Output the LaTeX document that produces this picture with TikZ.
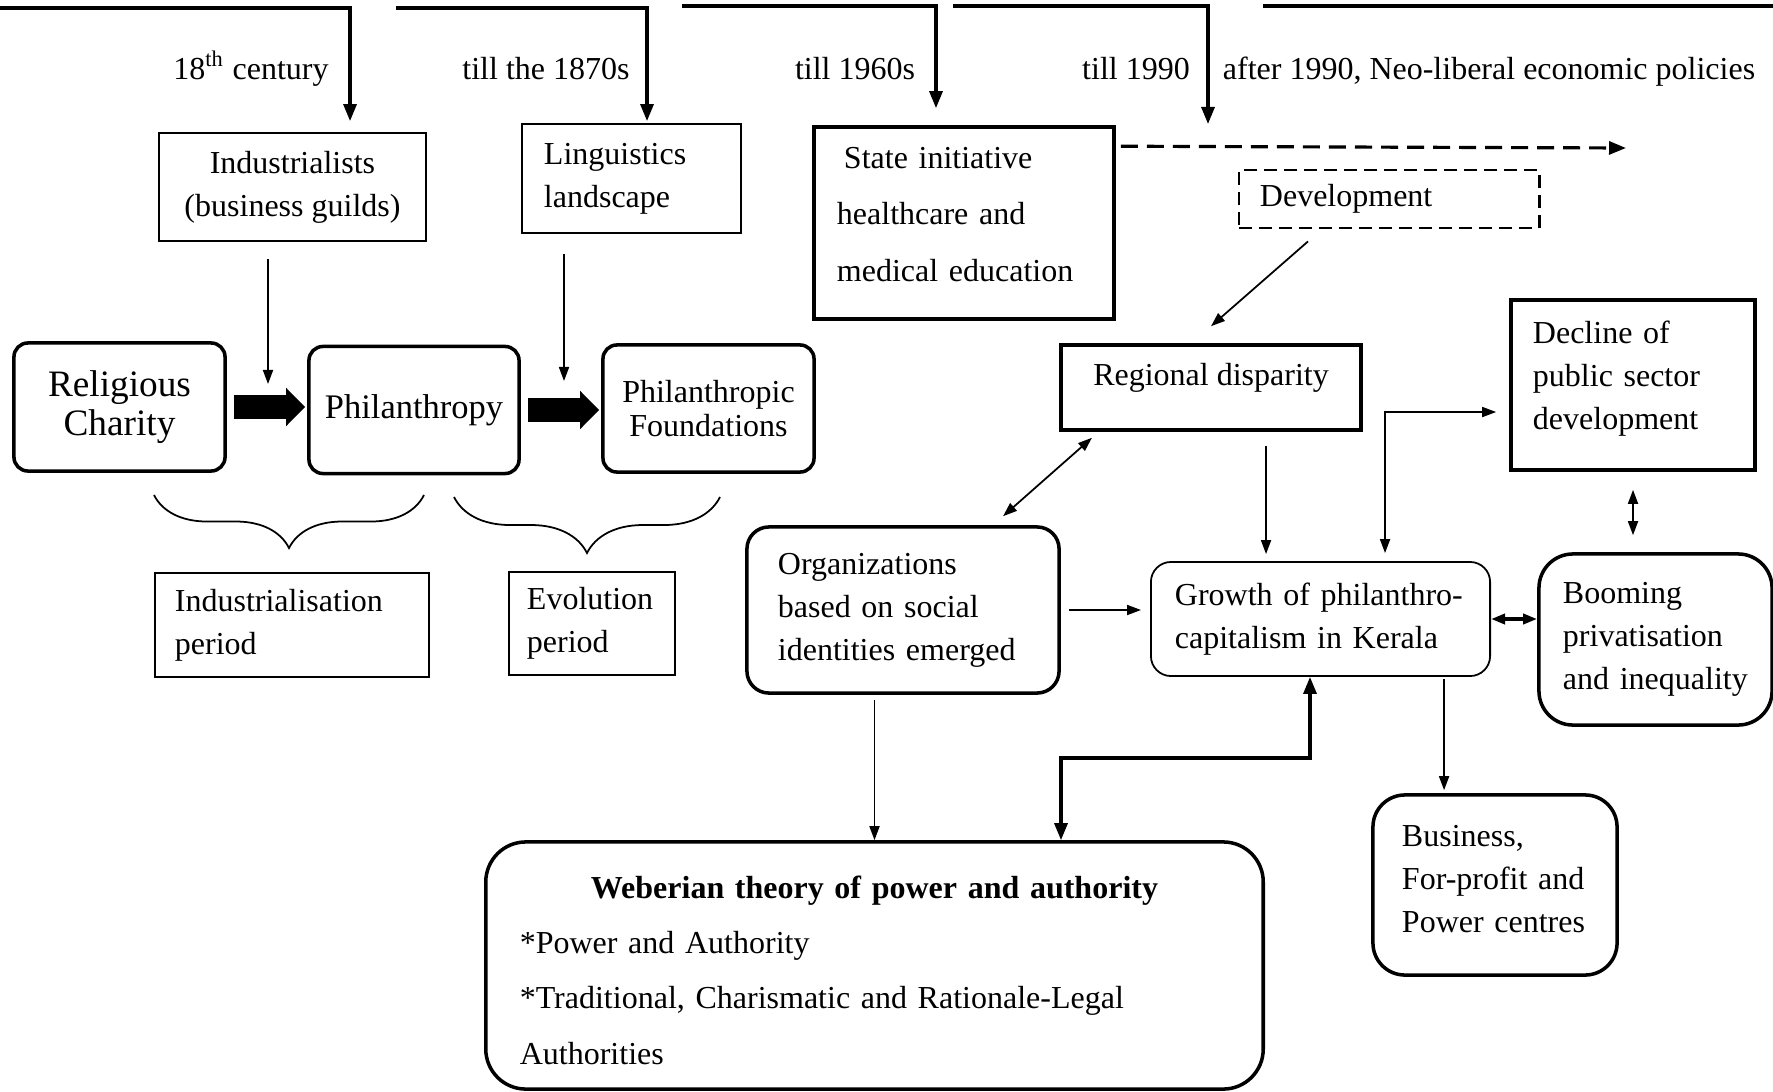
\documentclass[tikz,border=0pt]{standalone}
\usepackage{fontspec}
\setmainfont{Liberation Serif}
\usetikzlibrary{arrows.meta, decorations.pathreplacing}

\begin{document}
\begin{tikzpicture}[x=0.01cm, y=-0.01cm,
                    every node/.style={font=\fontsize{9.1}{12.2}\selectfont},
                    period/.style={anchor=base},
                    thinbox/.style={draw, line width=0.5pt, align=left, inner sep=0pt},
                    thickbox/.style={draw, line width=1pt, align=left, inner sep=0pt},
                    roundbox/.style={thickbox, rounded corners=#1},
                    dashbox/.style={draw, line width=0.8pt, dash pattern=on 0.13cm off 0.07cm, align=left, inner sep=0pt},
                    arrow/.style={line width=0.5pt, -{Triangle[length=0.14cm, width=0.1cm]}},
                    dblarrow/.style={line width=0.5pt, {Triangle[length=0.14cm, width=0.1cm]}-{Triangle[length=0.14cm, width=0.1cm]}},
                    toparrow/.style={line width=0.9pt, -{Triangle[length=0.17cm, width=0.13cm]}},
                    topline/.style={line width=0.9pt},
                    dasharrow/.style={line width=0.9pt, dash pattern=on 0.17cm off 0.09cm, -{Triangle[length=0.17cm, width=0.13cm]}},
                    fatarrow/.style={line width=0.24cm, -{Triangle[length=0.19cm, width=0.37cm]}},
                    thickarrow/.style={line width=0.9pt, {Triangle[length=0.17cm, width=0.13cm]}-{Triangle[length=0.17cm, width=0.13cm]}},
                    brace/.style={decorate, decoration={brace, amplitude=#1}, line width=0.5pt}]
                    \useasboundingbox (0,0) rectangle (1773,1091);

                    \node[period] (lab1) at (251,80) {18\textsuperscript{th} century};
                    \node[period] (lab2) at (546,80) {till the 1870s};
                    \node[period] (lab3) at (855,80) {till 1960s};
                    \node[period] (lab4) at (1136,80) {till 1990};
                    \node[period] (lab5) at (1489,80) {after 1990, Neo-liberal economic policies};

                    \node[thinbox, minimum width=2.67cm, minimum height=1.08cm, align=center] (indust) at (292.5,187) {Industrialists\\(business guilds)};
                    \node[thinbox, minimum width=2.19cm, minimum height=1.09cm, text width=1.75cm] (ling) at (631.5,178.5) {Linguistics\\landscape};
                    \node[thickbox, minimum width=3cm, minimum height=1.92cm, text width=2.54cm, font=\fontsize{9.1}{16}\selectfont, text depth=37pt] (state) at (964,223) {\hspace{2pt}State initiative\\healthcare and\\medical education};
                    \node[dashbox, minimum width=3cm, minimum height=0.58cm, text width=2.58cm] (dev) at (1389,199) {Development};

                    \node[roundbox=0.14cm, minimum width=2.11cm, minimum height=1.28cm, align=center, font=\fontsize{10.6}{11}\selectfont] (rel) at (119.5,407) {Religious\\Charity};
                    \node[roundbox=0.14cm, minimum width=2.10cm, minimum height=1.27cm, align=center, font=\fontsize{9.8}{12}\selectfont] (phil) at (414,410) {Philanthropy};
                    \node[roundbox=0.14cm, minimum width=2.11cm, minimum height=1.27cm, align=center, font=\fontsize{9.1}{9.6}\selectfont] (found) at (708.5,408.5) {Philanthropic\\Foundations};

                    \node[thinbox, minimum width=2.74cm, minimum height=1.04cm, text width=2.34cm] (indper) at (292,625) {Industrialisation\\period};
                    \node[thinbox, minimum width=1.66cm, minimum height=1.03cm, text width=1.30cm] (evoper) at (592,623.5) {Evolution\\period};

                    \node[thickbox, minimum width=3cm, minimum height=0.85cm, align=center, text depth=7.7pt] (regional) at (1211,387.5) {Regional disparity};
                    \node[thickbox, minimum width=2.44cm, minimum height=1.70cm, text width=2.00cm, text depth=30pt] (decline) at (1633,385) {Decline of\\public sector\\development};
                    \node[roundbox=0.22cm, minimum width=3.12cm, minimum height=1.66cm, text width=2.50cm] (org) at (903,610) {Organizations\\based on social\\identities emerged};
                    \node[roundbox=0.2cm, line width=0.5pt, minimum width=3.39cm, minimum height=1.14cm, text width=2.91cm] (growth) at (1320.5,619) {Growth of philanthro-\\capitalism in Kerala};
                    \node[roundbox=0.34cm, minimum width=2.33cm, minimum height=1.71cm, text width=1.85cm] (booming) at (1655.5,639.5) {Booming\\privatisation\\and inequality};
                    \node[roundbox=0.32cm, minimum width=2.44cm, minimum height=1.80cm, text width=1.86cm, text depth=28pt] (business) at (1495,885) {Business,\\For-profit and\\Power centres};
                    \node[roundbox=0.4cm, minimum width=7.77cm, minimum height=2.47cm, text width=7.09cm, font=\fontsize{9.1}{15.7}\selectfont, text depth=44.5pt] (weber) at (874.5,965.5) {\makebox[\hsize]{\textbf{Weberian theory of power and authority}}\\{}*Power and Authority\\{}*Traditional, Charismatic and Rationale-Legal\\{}Authorities};

                    \coordinate (t1) at (0,8);
                    \coordinate (t2) at (396,8);
                    \coordinate (t3) at (682,6);
                    \coordinate (t4) at (953,6);
                    \coordinate (t4e) at (1208,124);
                    \coordinate (t5) at (1263,6);
                    \coordinate (t5e) at (1773,6);
                    \coordinate (gap1) at (268,384);
                    \coordinate (gap2) at (564,381);
                    \coordinate (dashend) at (1626,148);
                    \coordinate (bend) at (1061,758);

                    \draw[toparrow, shorten >=0.11cm] (t1) -| ([xshift=0.575cm]indust.north);
                    \draw[toparrow, shorten >=0.02cm] (t2) -| ([xshift=0.155cm]ling.north);
                    \draw[toparrow, shorten >=0.17cm] (t3) -| ([xshift=-0.28cm]state.north);
                    \draw[toparrow] (t4) -| (t4e);
                    \draw[topline] (t5) -- (t5e);

                    \draw[arrow, shorten <=0.17cm] (indust.south -| gap1) -- (gap1);
                    \draw[arrow, shorten <=0.2cm] (ling.south -| gap2) -- (gap2);
                    \draw[fatarrow, shorten <=0.07cm, shorten >=0.02cm] (rel.east) -- (rel.east -| phil.west);
                    \draw[fatarrow, shorten <=0.07cm, shorten >=0.02cm] (phil.east) -- (phil.east -| found.west);
                    \draw[brace=0.53cm] (424,495) -- (154,495);
                    \draw[brace=0.56cm] (720,497) -- (454,497);

                    \draw[dasharrow, shorten <=0.05cm] ([yshift=-0.21cm]state.north east) -- (dashend);
                    \draw[arrow] ([xshift=-0.81cm, yshift=-0.12cm]dev.south) -- ([yshift=0.17cm]regional.north);
                    \draw[dblarrow] ([xshift=1cm, yshift=0.09cm]org.north) -- ([xshift=-1.19cm, yshift=-0.06cm]regional.south);
                    \draw[arrow, shorten <=0.08cm, shorten >=0.09cm] (org.east) -- (org.east -| growth.west);
                    \draw[arrow, shorten <=0.14cm, shorten >=0.07cm] ([xshift=0.55cm]regional.south) -- ([xshift=0.55cm]regional.south |- growth.north);
                    \draw[dblarrow, shorten <=0.08cm, shorten >=0.13cm] ([xshift=0.645cm]growth.north) |- ([yshift=-0.27cm]decline.west);
                    \draw[dblarrow, shorten <=0.18cm, shorten >=0.17cm] (decline.south) -- (decline.south |- booming.north);
                    \draw[dblarrow, line width=1pt] (growth.east) -- (growth.east -| booming.west);
                    \draw[arrow, shorten <=0.02cm, shorten >=0.03cm] ([xshift=1.235cm]growth.south) -- ([xshift=1.235cm]growth.south |- business.north);
                    \draw[arrow, shorten <=0.05cm] (org.south -| weber.north) -- (weber.north);
                    \draw[thickarrow] ([xshift=-0.105cm]growth.south) |- (bend) -- (bend |- weber.north);
                \end{tikzpicture}
\end{document}
